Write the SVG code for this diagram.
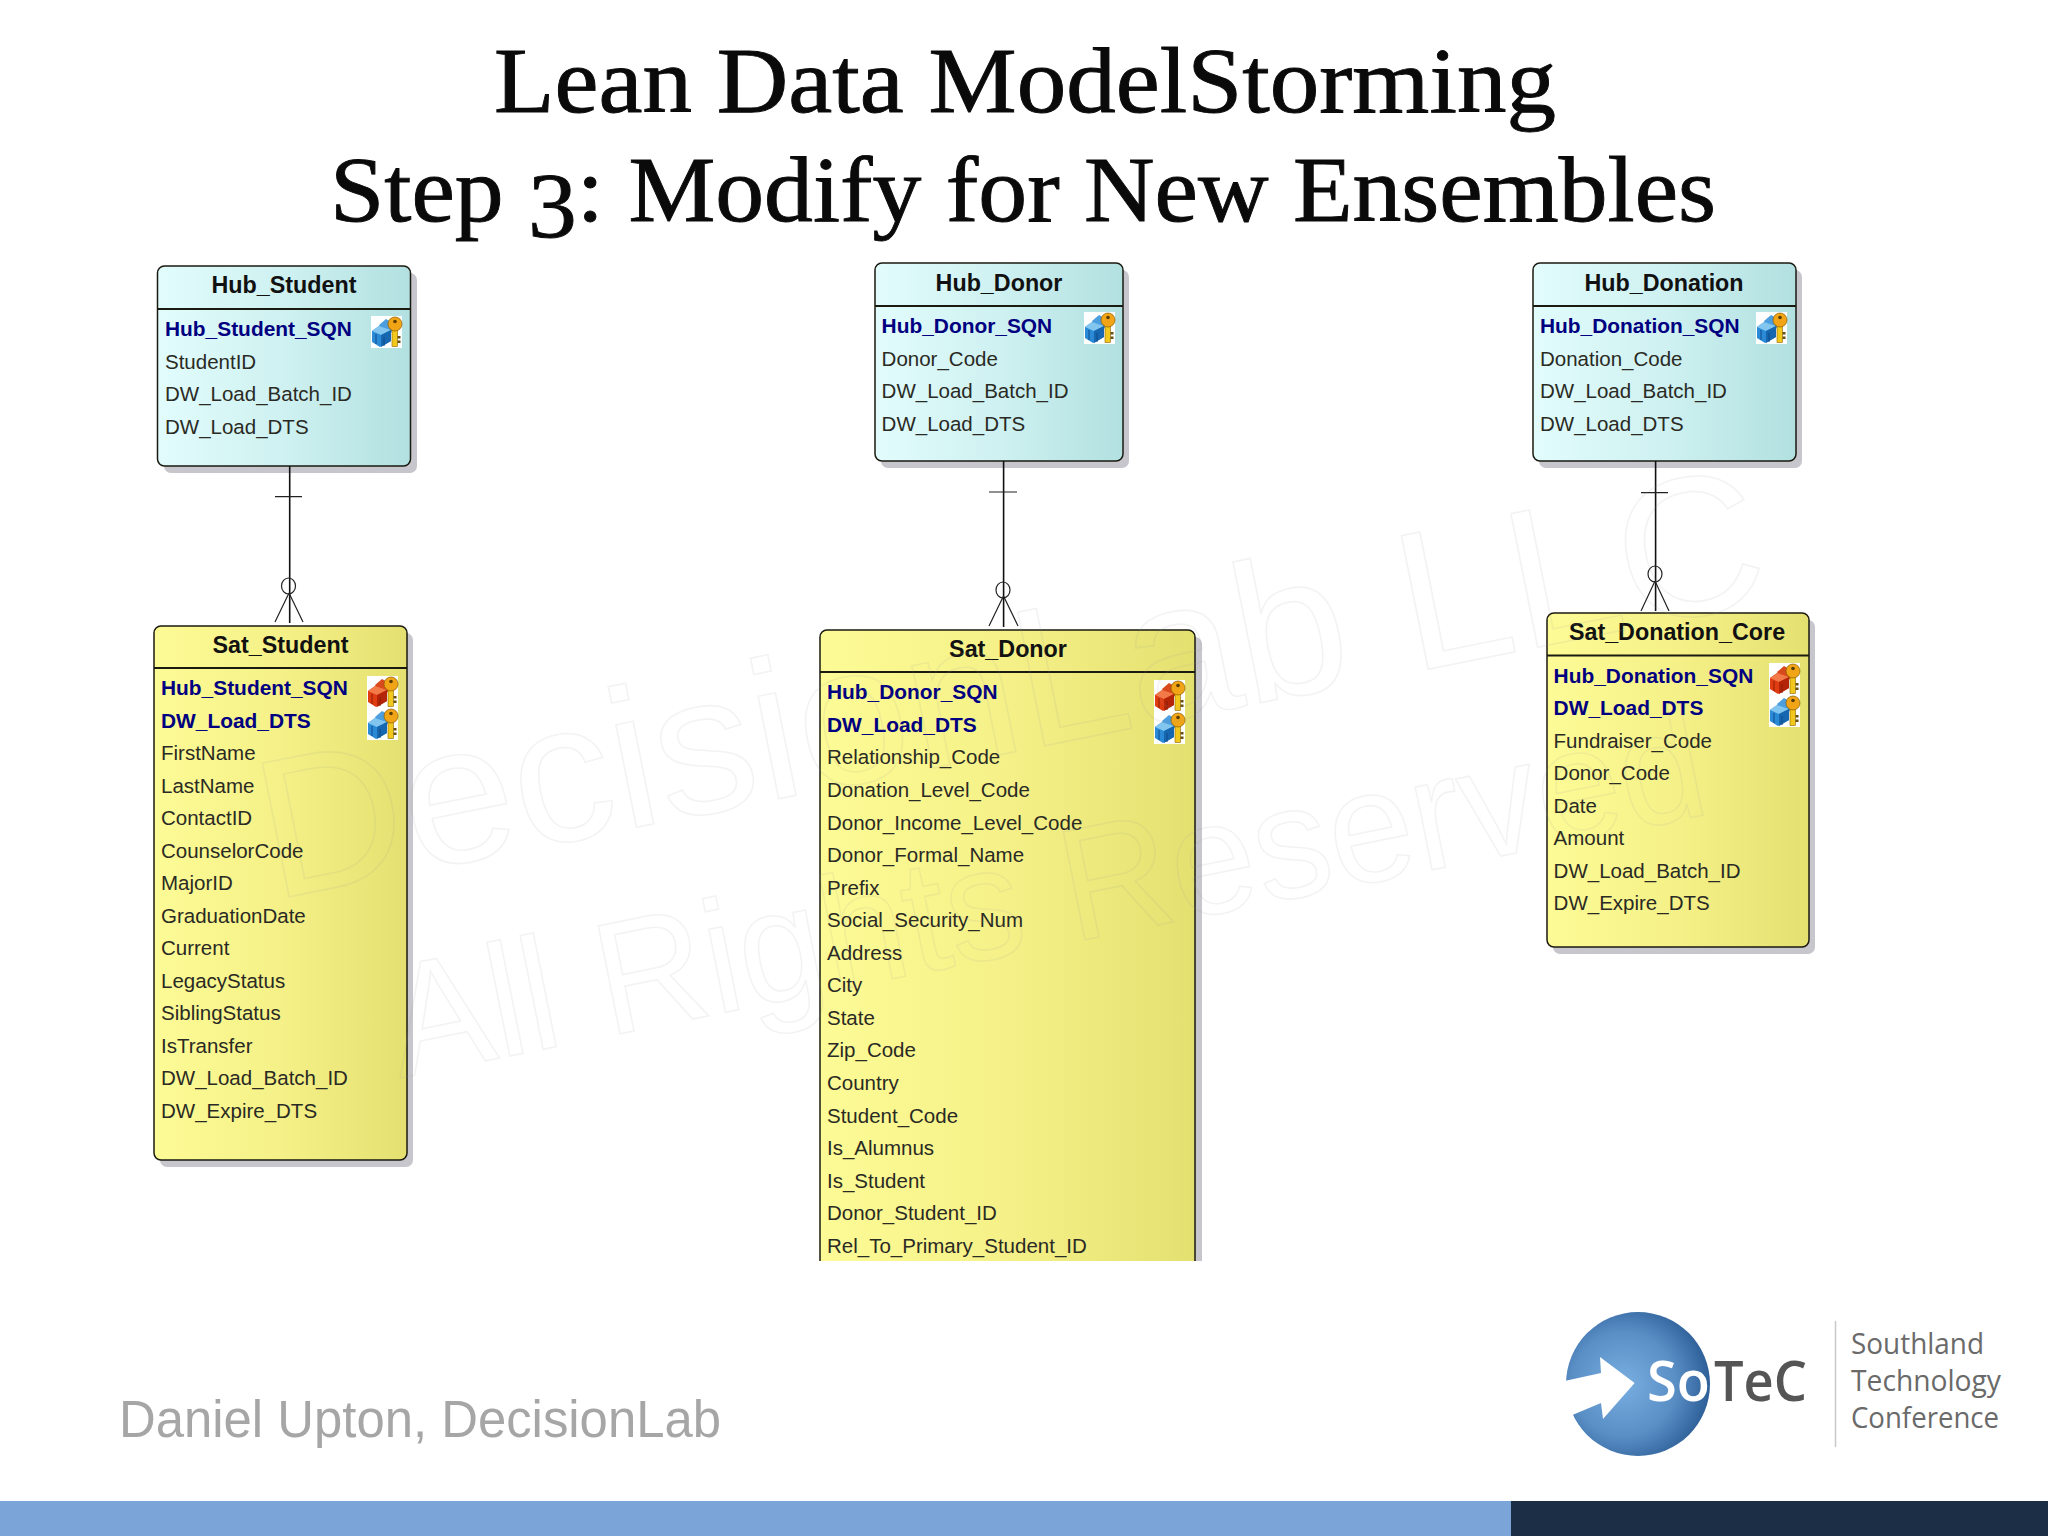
<svg xmlns="http://www.w3.org/2000/svg" xmlns:xlink="http://www.w3.org/1999/xlink" width="2048" height="1536" viewBox="0 0 2048 1536">
<style>
.title{font-family:"Liberation Serif",serif;font-size:94px;fill:#0a0a0a;stroke:#0a0a0a;stroke-width:.9;text-anchor:middle}
.box{stroke:#1a1a10;stroke-width:1.5}
.shadow{fill:#c6c6cc}
.hub{fill:url(#hubG)}
.sat{fill:url(#satG)}
.div{stroke:#1a1a10;stroke-width:1.8}
.name{font-family:"Liberation Sans",Arial,sans-serif;font-weight:bold;font-size:23.3px;fill:#111;text-anchor:middle}
.k{font-family:"Liberation Sans",Arial,sans-serif;font-weight:bold;font-size:20.9px;fill:#000080}
.a{font-family:"Liberation Sans",Arial,sans-serif;font-size:20.5px;fill:#2a2a24}
.ln{stroke:#111;stroke-width:1.6;fill:none}
.ln2{stroke:#222;stroke-width:1.2;fill:none}
.wm{font-family:"Liberation Sans",Arial,sans-serif;fill:none;stroke:#9a9a9a;stroke-opacity:.12;stroke-width:1.6}
.lg{font-family:"Open Sans",sans-serif;font-size:30px;fill:#6a6a6a}
</style>
<defs>
<linearGradient id="hubG" x1="0" y1="0" x2="1" y2="0"><stop offset="0" stop-color="#e2fcfc"/><stop offset=".5" stop-color="#cff1f1"/><stop offset="1" stop-color="#b2e0e0"/></linearGradient>
<linearGradient id="satG" x1="0" y1="0" x2="1" y2="0"><stop offset="0" stop-color="#fdfb96"/><stop offset=".5" stop-color="#f5f188"/><stop offset="1" stop-color="#e4e070"/></linearGradient>
<radialGradient id="ball" cx=".4" cy=".5" r=".6"><stop offset="0" stop-color="#78aee0"/><stop offset=".6" stop-color="#5a8fc6"/><stop offset="1" stop-color="#2e5f98"/></radialGradient>
<clipPath id="cut"><rect x="800" y="600" width="420" height="661"/></clipPath>
<g id="key">
<rect x="21" y="12" width="5.5" height="18.5" fill="#f2c81c" stroke="#8a6400" stroke-width=".6"/>
<rect x="26.5" y="20" width="3" height="2.5" fill="#6a5010"/><rect x="26.5" y="24.5" width="3" height="2.5" fill="#6a5010"/>
<circle cx="24" cy="8" r="7" fill="#f0a416" stroke="#8a5c00" stroke-width=".7"/>
<circle cx="24" cy="5.5" r="1.8" fill="#5a3c00"/>
</g>
<symbol id="iconB" viewBox="0 0 31 32" overflow="visible">
<rect width="31" height="32" fill="#fff"/>
<polygon points="8,9 15,3 22,7 22,16 12,18" fill="#4c9ede"/>
<polygon points="1,15 8,10 20,14 20,25 9,31 1,26" fill="#2a8ad6"/>
<polygon points="1,15 8,10 20,14 10,19" fill="#82c6f0"/>
<polygon points="10,19 20,14 20,25 10,31" fill="#1666b0"/>
<path d="M5 18V28M13 21V30" stroke="#0e4a8c" stroke-width="1"/>
<use href="#key"/>
</symbol>
<symbol id="iconR" viewBox="0 0 31 32" overflow="visible">
<rect width="31" height="32" fill="#fff"/>
<polygon points="8,9 15,3 22,7 22,16 12,18" fill="#d84a1c"/>
<polygon points="1,15 8,10 20,14 20,25 9,31 1,26" fill="#e03c12"/>
<polygon points="1,15 8,10 20,14 10,19" fill="#f27a48"/>
<polygon points="10,19 20,14 20,25 10,31" fill="#b42408"/>
<path d="M5 18V28M13 21V30" stroke="#8e1c04" stroke-width="1"/>
<use href="#key"/>
</symbol>
</defs>
<rect width="2048" height="1536" fill="#fff"/>
<g id="title">
<text class="title" x="1025" y="112" textLength="1062" lengthAdjust="spacingAndGlyphs">Lean Data ModelStorming</text>
<text class="title" x="1023" y="221" textLength="1386" lengthAdjust="spacingAndGlyphs">Step <tspan dy="16">3</tspan><tspan dy="-16">: Modify for New Ensembles</tspan></text>
</g>
<g id="Hub_Student">
<rect class="shadow" x="164" y="273" width="253" height="200" rx="7"/>
<rect class="box hub" x="157.5" y="266" width="253" height="200" rx="7"/>
<path class="div" d="M157.5 309H410.5"/>
<text class="name" x="284" y="293">Hub_Student</text>
<text class="k" x="165" y="336">Hub_Student_SQN</text>
<text class="a" x="165" y="368.5">StudentID</text>
<text class="a" x="165" y="401">DW_Load_Batch_ID</text>
<text class="a" x="165" y="433.5">DW_Load_DTS</text>
<use href="#iconB" x="371" y="316" width="31" height="32"/>
</g>
<g id="Hub_Donor">
<rect class="shadow" x="881" y="270" width="248" height="198" rx="7"/>
<rect class="box hub" x="875" y="263" width="248" height="198" rx="7"/>
<path class="div" d="M875 306H1123"/>
<text class="name" x="999" y="291">Hub_Donor</text>
<text class="k" x="881.6" y="333">Hub_Donor_SQN</text>
<text class="a" x="881.6" y="365.5">Donor_Code</text>
<text class="a" x="881.6" y="398">DW_Load_Batch_ID</text>
<text class="a" x="881.6" y="430.5">DW_Load_DTS</text>
<use href="#iconB" x="1084" y="312" width="31" height="32"/>
</g>
<g id="Hub_Donation">
<rect class="shadow" x="1539" y="270" width="263" height="198" rx="7"/>
<rect class="box hub" x="1533" y="263" width="263" height="198" rx="7"/>
<path class="div" d="M1533 306H1796"/>
<text class="name" x="1664" y="291">Hub_Donation</text>
<text class="k" x="1540" y="333">Hub_Donation_SQN</text>
<text class="a" x="1540" y="365.5">Donation_Code</text>
<text class="a" x="1540" y="398">DW_Load_Batch_ID</text>
<text class="a" x="1540" y="430.5">DW_Load_DTS</text>
<use href="#iconB" x="1756" y="312" width="31" height="32"/>
</g>
<g id="Sat_Student">
<rect class="shadow" x="160" y="633" width="253" height="534" rx="7"/>
<rect class="box sat" x="154" y="626" width="253" height="534" rx="7"/>
<path class="div" d="M154 668H407"/>
<text class="name" x="280.5" y="653">Sat_Student</text>
<text class="k" x="161" y="695.3">Hub_Student_SQN</text>
<text class="k" x="161" y="727.8">DW_Load_DTS</text>
<text class="a" x="161" y="760.3">FirstName</text>
<text class="a" x="161" y="792.8">LastName</text>
<text class="a" x="161" y="825.3">ContactID</text>
<text class="a" x="161" y="857.8">CounselorCode</text>
<text class="a" x="161" y="890.3">MajorID</text>
<text class="a" x="161" y="922.8">GraduationDate</text>
<text class="a" x="161" y="955.3">Current</text>
<text class="a" x="161" y="987.8">LegacyStatus</text>
<text class="a" x="161" y="1020.3">SiblingStatus</text>
<text class="a" x="161" y="1052.8">IsTransfer</text>
<text class="a" x="161" y="1085.3">DW_Load_Batch_ID</text>
<text class="a" x="161" y="1117.8">DW_Expire_DTS</text>
<use href="#iconR" x="367" y="676" width="31" height="32"/>
<use href="#iconB" x="367" y="708" width="31" height="32"/>
</g>
<g id="Sat_Donor">
<g clip-path="url(#cut)">
<rect class="shadow" x="827" y="637" width="375" height="700" rx="7"/>
<rect class="box sat" x="820" y="630" width="375" height="700" rx="7"/>
</g>
<path class="div" d="M820 672H1195"/>
<text class="name" x="1008" y="657">Sat_Donor</text>
<text class="k" x="827" y="699.3">Hub_Donor_SQN</text>
<text class="k" x="827" y="731.9">DW_Load_DTS</text>
<text class="a" x="827" y="764.4">Relationship_Code</text>
<text class="a" x="827" y="796.9">Donation_Level_Code</text>
<text class="a" x="827" y="829.5">Donor_Income_Level_Code</text>
<text class="a" x="827" y="862">Donor_Formal_Name</text>
<text class="a" x="827" y="894.6">Prefix</text>
<text class="a" x="827" y="927.1">Social_Security_Num</text>
<text class="a" x="827" y="959.7">Address</text>
<text class="a" x="827" y="992.2">City</text>
<text class="a" x="827" y="1024.8">State</text>
<text class="a" x="827" y="1057.3">Zip_Code</text>
<text class="a" x="827" y="1089.9">Country</text>
<text class="a" x="827" y="1122.5">Student_Code</text>
<text class="a" x="827" y="1155">Is_Alumnus</text>
<text class="a" x="827" y="1187.6">Is_Student</text>
<text class="a" x="827" y="1220.1">Donor_Student_ID</text>
<text class="a" x="827" y="1252.7">Rel_To_Primary_Student_ID</text>
<use href="#iconR" x="1154" y="680" width="31" height="32"/>
<use href="#iconB" x="1154" y="712" width="31" height="32"/>
</g>
<g id="Sat_Donation_Core">
<rect class="shadow" x="1553" y="620" width="262" height="334" rx="7"/>
<rect class="box sat" x="1547" y="613" width="262" height="334" rx="7"/>
<path class="div" d="M1547 655.5H1809"/>
<text class="name" x="1677" y="640">Sat_Donation_Core</text>
<text class="k" x="1553.6" y="682.7">Hub_Donation_SQN</text>
<text class="k" x="1553.6" y="715.2">DW_Load_DTS</text>
<text class="a" x="1553.6" y="747.7">Fundraiser_Code</text>
<text class="a" x="1553.6" y="780.2">Donor_Code</text>
<text class="a" x="1553.6" y="812.7">Date</text>
<text class="a" x="1553.6" y="845.2">Amount</text>
<text class="a" x="1553.6" y="877.7">DW_Load_Batch_ID</text>
<text class="a" x="1553.6" y="910.2">DW_Expire_DTS</text>
<use href="#iconR" x="1769" y="663" width="31" height="32"/>
<use href="#iconB" x="1769" y="695" width="31" height="32"/>
</g>
<g id="connectors">
<path class="ln" d="M289.7 466V623"/><path class="ln2" d="M275 496.7H302M289 593L275 622M289 593L303 622"/><ellipse class="ln2" cx="288.5" cy="586" rx="7" ry="8"/>
<path class="ln" d="M1003.6 461V627"/><path class="ln2" d="M989 492H1017M1003.5 596L989 626M1003.5 596L1018 626"/><ellipse class="ln2" cx="1003" cy="590" rx="7" ry="8"/>
<path class="ln" d="M1655.6 461V611"/><path class="ln2" d="M1641 492.6H1668M1655 581L1641 611M1655 581L1669 611"/><ellipse class="ln2" cx="1655" cy="574" rx="7" ry="8"/>
</g>
<g id="watermark">
<text class="wm" font-size="198" transform="translate(273 900) rotate(-11.3)" textLength="1530" lengthAdjust="spacingAndGlyphs">DecisionLab LLC</text>
<text class="wm" font-size="160" transform="translate(400 1078) rotate(-11.4)" textLength="1339" lengthAdjust="spacingAndGlyphs">All Rights Reserved</text>
</g>
<g id="footer">
<text x="119" y="1437" font-family="Liberation Sans, Arial, sans-serif" font-size="51" fill="#a6a6a6" textLength="602" lengthAdjust="spacingAndGlyphs">Daniel Upton, DecisionLab</text>
<rect x="0" y="1501" width="1511" height="35" fill="#7ba4d8"/>
<rect x="1511" y="1501" width="537" height="35" fill="#1c2e45"/>
</g>
<g id="logo">
<circle cx="1638" cy="1384" r="72" fill="url(#ball)"/>
<polygon points="1634.6,1383 1600,1357 1601,1373 1560,1382 1570,1416 1601,1403 1603,1419" fill="#fff"/>
<text x="1647" y="1401" font-family="Open Sans, sans-serif" font-weight="600" font-size="56" fill="#fff" textLength="63" lengthAdjust="spacingAndGlyphs">So</text>
<text x="1714" y="1401" font-family="Open Sans, sans-serif" font-weight="600" font-size="56" fill="#555" textLength="93" lengthAdjust="spacingAndGlyphs">TeC</text>
<path d="M1835.5 1321V1447" stroke="#c8c8c8" stroke-width="1.5"/>
<text class="lg" x="1851" y="1354" textLength="133" lengthAdjust="spacingAndGlyphs">Southland</text>
<text class="lg" x="1851" y="1391" textLength="150" lengthAdjust="spacingAndGlyphs">Technology</text>
<text class="lg" x="1851" y="1428" textLength="148" lengthAdjust="spacingAndGlyphs">Conference</text>
</g>
</svg>
